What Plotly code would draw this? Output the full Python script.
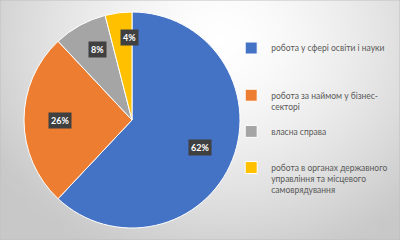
import math
import numpy as np
import plotly.graph_objects as go

# ---- data ----
categories = [
    "робота у сфері освіти і науки",
    "робота за наймом у бізнес-<br>секторі",
    "власна справа",
    "робота в органах державного<br>управління та місцевого<br>самоврядування",
]
values = [62, 26, 8, 4]

# ---- style ----
colors = ["#4472C4", "#ED7D31", "#A5A5A5", "#FFC000"]
label_radius = [0.68, 0.78, 0.84, 0.85]   # fraction of pie radius for data labels
legend_pad = [3, 1, 2, 0]                 # blank lines after each legend entry
pie_x = [0.06, 0.60]
pie_y = [0.05, 0.95]
W, H = 400, 240

legend_labels = [c + "<br>\u00a0" * p for c, p in zip(categories, legend_pad)]

fig = go.Figure()

# decorative background gradient (white near top-centre -> light gray edges)
gx = np.arange(0, W + 1, 20)
gy = np.arange(0, H + 1, 20)
GX, GY = np.meshgrid(gx, gy)
rr = np.sqrt(((GX - 220) / 260.0) ** 2 + ((GY - 40) / 230.0) ** 2)
shade = 1 - np.clip(rr, 0, 1) ** 1.5
fig.add_trace(go.Heatmap(
    x=gx, y=gy, z=shade, zmin=0, zmax=1, zsmooth="best",
    colorscale=[[0, "#c8c8c8"], [1, "#ffffff"]],
    showscale=False, hoverinfo="skip",
))

fig.add_trace(go.Pie(
    labels=legend_labels,
    values=values,
    sort=False,
    direction="clockwise",
    rotation=0,
    marker=dict(colors=colors, line=dict(color="white", width=1)),
    textinfo="none",
    hoverinfo="none",
    domain=dict(x=pie_x, y=pie_y),
    showlegend=True,
))

# data labels computed from the values
total = sum(values)
cxp = (pie_x[0] + pie_x[1]) / 2 * W
cyp = (1 - (pie_y[0] + pie_y[1]) / 2) * H
R = (pie_x[1] - pie_x[0]) * W / 2
annotations = []
cum = 0
for v, rf in zip(values, label_radius):
    mid = (cum + v / 2) / total * 2 * math.pi
    cum += v
    px = cxp + rf * R * math.sin(mid)
    py = cyp - rf * R * math.cos(mid)
    annotations.append(dict(
        x=px / W, y=1 - py / H, xref="paper", yref="paper",
        text=f"<b>{round(v / total * 100)}%</b>", showarrow=False,
        font=dict(family="Lato", size=9, color="white"),
        bgcolor="#404040", borderpad=2,
    ))

fig.update_layout(
    width=W, height=H,
    margin=dict(l=0, r=0, t=0, b=0, autoexpand=False),
    paper_bgcolor="#cbcbcb",
    plot_bgcolor="rgba(0,0,0,0)",
    xaxis=dict(visible=False, range=[0, W], fixedrange=True),
    yaxis=dict(visible=False, range=[H, 0], fixedrange=True),
    shapes=[dict(type="rect", xref="paper", yref="paper", x0=0, x1=1, y0=0, y1=1,
                 line=dict(color="#bfbfbf", width=1), fillcolor="rgba(0,0,0,0)")],
    annotations=annotations,
    legend=dict(
        x=0.578, y=0.85, xanchor="left", yanchor="top",
        font=dict(family="Lato", size=8.5, color="#595959"),
        valign="top", bgcolor="rgba(0,0,0,0)",
        itemwidth=30, tracegroupgap=0,
    ),
)

fig.write_html("out.html")
